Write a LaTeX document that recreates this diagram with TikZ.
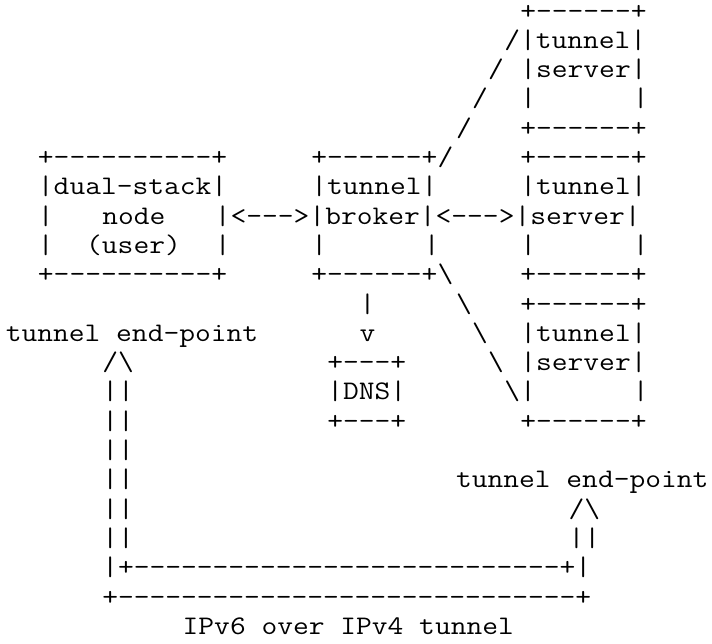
\documentclass[tikz,border=0pt]{standalone}
\usepackage{graphicx}
\usepackage{fontspec}
\tikzset{
  frag/.style={anchor=base west, inner sep=0pt, outer sep=0pt,
    font=\ttfamily\fontsize{26.8pt}{29.3pt}\selectfont, text=black}
}
% \asc{name}{column}{row}{text}
\newcommand{\asc}[4]{\node[frag] (#1) at ({(5.8+16.08*#2)*1pt},{-(19+29.3*#3)*1pt}) {\scalebox{1.1428}[1]{#4}};}
\newcommand{\bs}{\textbackslash}
\begin{document}
\begin{tikzpicture}
\fill[white] (0pt,0pt) rectangle (712pt,-643pt);
\useasboundingbox (0pt,0pt) rectangle (712pt,-643pt);
% row 0-4: upper tunnel server
\asc{sA0}{32}{0}{+------+}
\asc{sA1}{31}{1}{/|tunnel|}
\asc{lA2}{30}{2}{/}
\asc{sA2}{32}{2}{|server|}
\asc{lA3}{29}{3}{/}
\asc{sA3l}{32}{3}{|}
\asc{sA3r}{39}{3}{|}
\asc{lA4}{28}{4}{/}
\asc{sA4}{32}{4}{+------+}
% row 5-9: dual-stack node, tunnel broker, middle tunnel server
\asc{u5}{2}{5}{+----------+}
\asc{b5}{19}{5}{+------+/}
\asc{sB5}{32}{5}{+------+}
\asc{u6}{2}{6}{|dual-stack|}
\asc{b6}{19}{6}{|tunnel|}
\asc{sB6}{32}{6}{|tunnel|}
\asc{u7l}{2}{7}{|}
\asc{u7}{6}{7}{node}
\asc{r7}{13}{7}{|<--->|broker|<--->|server|}
\asc{u8l}{2}{8}{|}
\asc{u8}{5}{8}{(user)}
\asc{u8r}{13}{8}{|}
\asc{b8l}{19}{8}{|}
\asc{b8r}{26}{8}{|}
\asc{sB8l}{32}{8}{|}
\asc{sB8r}{39}{8}{|}
\asc{u9}{2}{9}{+----------+}
\asc{b9}{19}{9}{+------+\bs}
\asc{sB9}{32}{9}{+------+}
% row 10-14: DNS, lower tunnel server
\asc{d10}{22}{10}{|}
\asc{lC10}{28}{10}{\bs}
\asc{sC10}{32}{10}{+------+}
\asc{e11}{0}{11}{tunnel end-point}
\asc{d11}{22}{11}{v}
\asc{lC11}{29}{11}{\bs}
\asc{sC11}{32}{11}{|tunnel|}
\asc{e12}{6}{12}{/\bs}
\asc{n12}{20}{12}{+---+}
\asc{lC12}{30}{12}{\bs}
\asc{sC12}{32}{12}{|server|}
\asc{e13}{6}{13}{||}
\asc{n13}{20}{13}{|DNS|}
\asc{sC13}{31}{13}{\bs|}
\asc{sC13r}{39}{13}{|}
\asc{e14}{6}{14}{||}
\asc{n14}{20}{14}{+---+}
\asc{sC14}{32}{14}{+------+}
% row 15-21: tunnel
\asc{e15}{6}{15}{||}
\asc{e16}{6}{16}{||}
\asc{f16}{28}{16}{tunnel end-point}
\asc{e17}{6}{17}{||}
\asc{f17}{35}{17}{/\bs}
\asc{e18}{6}{18}{||}
\asc{f18}{35}{18}{||}
\asc{t19}{6}{19}{|+---------------------------+|}
\asc{t20}{6}{20}{+-----------------------------+}
\asc{t21}{11}{21}{IPv6 over IPv4 tunnel}
\end{tikzpicture}
\end{document}
